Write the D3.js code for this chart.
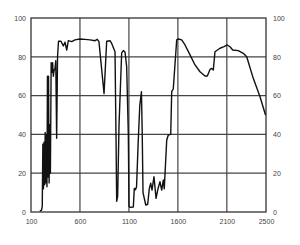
<!DOCTYPE html>
<html>
<head>
<meta charset="utf-8">
<script src="https://cdn.jsdelivr.net/npm/d3@7"></script>
<style>
  html, body { margin: 0; padding: 0; background: #fff; }
</style>
</head>
<body>
<div id="chart"></div>
<script>

var xTicks = [100, 600, 1100, 1600, 2100, 2500];
var yTicks = [0, 20, 40, 60, 80, 100];

// wavelength (nm) and reflectance (%)
var wavelength = [
    190, 208, 215, 221, 227, 233, 239, 245, 251, 257, 263, 268, 273, 279, 285, 291,
    298, 306, 314, 321, 328, 336, 345, 353, 362, 371, 381,
    406, 430, 447, 465, 481, 516, 549, 600, 651, 703, 754, 777, 794, 846, 873, 907,
    924, 958, 968, 975, 985, 999, 1026, 1043, 1060, 1077, 1094, 1101, 1111, 1145,
    1155, 1167, 1178, 1194, 1211, 1228, 1236, 1244, 1272, 1292, 1308, 1323, 1336,
    1356, 1377, 1397, 1417, 1435, 1451, 1461, 1486, 1502, 1527, 1537, 1553, 1588,
    1604, 1639, 1673, 1724, 1775, 1826, 1877, 1901, 1928, 1946, 1962, 1979, 2030,
    2071, 2105, 2132, 2160, 2217, 2268, 2303, 2370, 2439, 2495
];
var reflectance = [
    0.5, 1, 3, 35, 12, 36, 14, 41, 15, 40, 13, 70, 18, 70, 15, 45,
    20, 77, 72, 77, 70, 73, 74, 78, 38, 80, 88,
    88, 85.6, 87.5, 83.5, 88.3, 87.8, 88.7, 89.2, 89, 88.7, 88.3, 89, 87.8, 61, 88, 88.3,
    86.9, 82.6, 40, 5.5, 8, 45, 82, 83.2, 82.5, 75, 40, 3, 2.4, 2.6,
    12.2, 11.5, 13, 35, 55, 62, 40, 10, 3.6, 4, 12, 14.8, 11.3,
    18.2, 7, 12, 15.6, 11.3, 16.5, 12, 37, 39.7, 40, 62, 63.4, 88.7,
    89.2, 88.7, 86.1, 81, 75.8, 72.3, 70.1, 70.1, 73.5, 74, 73.2, 82.6, 84.4,
    85.2, 86.1, 85.2, 83.5, 83.2, 81.8, 80, 68.9, 59.4, 50
];

function drawChart() {

    var width = 300, height = 245;
    var plotLeft = 31, plotRight = 266, plotTop = 18, plotBottom = 212;

    var x = d3.scaleLinear().domain([100, 2500]).range([plotLeft, plotRight]);
    var y = d3.scaleLinear().domain([0, 100]).range([plotBottom, plotTop]);

    var svg = d3.select("#chart")
        .append("svg")
        .attr("width", width)
        .attr("height", height);

    // grid
    svg.append("g")
        .selectAll("line")
        .data(xTicks.slice(1, -1))
        .enter()
        .append("line")
        .attr("x1", function (d) { return x(d); })
        .attr("x2", function (d) { return x(d); })
        .attr("y1", plotTop)
        .attr("y2", plotBottom)
        .attr("stroke", "#444")
        .attr("stroke-width", 1.2);

    svg.append("g")
        .selectAll("line")
        .data(yTicks.slice(1, -1))
        .enter()
        .append("line")
        .attr("x1", plotLeft)
        .attr("x2", plotRight)
        .attr("y1", function (d) { return y(d); })
        .attr("y2", function (d) { return y(d); })
        .attr("stroke", "#444")
        .attr("stroke-width", 1.2);

    // frame
    svg.append("rect")
        .attr("x", plotLeft)
        .attr("y", plotTop)
        .attr("width", plotRight - plotLeft)
        .attr("height", plotBottom - plotTop)
        .attr("fill", "none")
        .attr("stroke", "#333")
        .attr("stroke-width", 1.3);

    // axes (labels only)
    var fmt = d3.format("d");
    var axisL = svg.append("g")
        .attr("transform", "translate(" + plotLeft + ",0)")
        .call(d3.axisLeft(y).tickValues(yTicks).tickFormat(fmt).tickSize(0).tickPadding(5));
    var axisR = svg.append("g")
        .attr("transform", "translate(" + plotRight + ",0)")
        .call(d3.axisRight(y).tickValues(yTicks).tickFormat(fmt).tickSize(0).tickPadding(7));
    var axisB = svg.append("g")
        .attr("transform", "translate(0," + plotBottom + ")")
        .call(d3.axisBottom(x).tickValues(xTicks).tickFormat(fmt).tickSize(0).tickPadding(7));

    [axisL, axisR, axisB].forEach(function (g) {
        g.select(".domain").remove();
        g.selectAll("text")
            .attr("font-size", 7)
            .attr("font-family", "Liberation Sans, Arial, sans-serif")
            .attr("fill", "#444");
    });

    // spectrum
    var line = d3.line()
        .x(function (d) { return x(d[0]); })
        .y(function (d) { return y(d[1]); });

    svg.append("path")
        .datum(d3.zip(wavelength, reflectance))
        .attr("d", line)
        .attr("fill", "none")
        .attr("stroke", "#111")
        .attr("stroke-width", 1.4)
        .attr("stroke-linejoin", "round");
}

drawChart();

</script>
</body>
</html>
